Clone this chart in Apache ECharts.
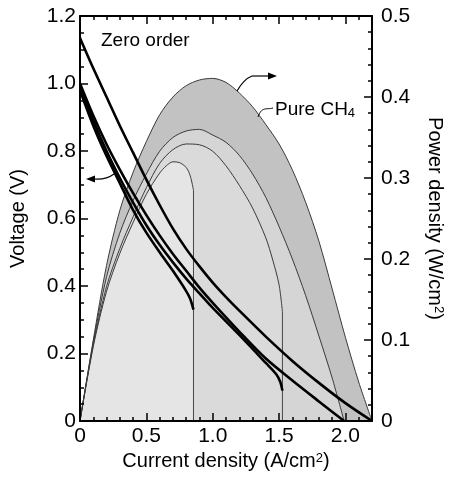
<!DOCTYPE html>
<html>
<head>
<meta charset="utf-8">
<script src="https://cdn.jsdelivr.net/npm/echarts@6/dist/echarts.min.js"></script>
<style>
  html, body { margin: 0; background: #fff; }
  #chart { width: 453px; height: 477px; }
</style>
</head>
<body>
<div id="chart"></div>
<script>
// voltage curves (left axis, V)
const currentZero = [0, 0.1, 0.2, 0.3, 0.4, 0.5, 0.6, 0.7, 0.8, 0.9, 1.0, 1.1, 1.2, 1.4, 1.6, 1.8, 2.0, 2.2];
const voltZero    = [1.135, 1.045, 0.96, 0.875, 0.795, 0.715, 0.64, 0.57, 0.51, 0.458, 0.41, 0.367, 0.327, 0.25, 0.178, 0.113, 0.053, 0];
const currentA = [0, 0.1, 0.2, 0.3, 0.4, 0.5, 0.6, 0.7, 0.8, 0.9, 1.0, 1.2, 1.4, 1.6, 1.8, 1.99];
const voltA    = [1.0, 0.905, 0.82, 0.745, 0.675, 0.61, 0.55, 0.495, 0.445, 0.395, 0.35, 0.265, 0.185, 0.12, 0.058, 0];
const currentB = [0, 0.1, 0.2, 0.3, 0.4, 0.5, 0.6, 0.7, 0.8, 0.9, 1.0, 1.2, 1.4, 1.48, 1.51, 1.525];
const voltB    = [0.99, 0.89, 0.8, 0.72, 0.647, 0.58, 0.522, 0.47, 0.422, 0.378, 0.335, 0.255, 0.172, 0.138, 0.115, 0.09];
const currentC = [0, 0.1, 0.2, 0.3, 0.4, 0.5, 0.6, 0.7, 0.8, 0.83, 0.855];
const voltC    = [0.98, 0.875, 0.785, 0.705, 0.625, 0.558, 0.5, 0.445, 0.385, 0.362, 0.33];

// power density curves (right axis, W/cm2)
const currentP0 = [0, 0.1, 0.2, 0.3, 0.4, 0.5, 0.6, 0.7, 0.8, 0.9, 1.0, 1.1, 1.2, 1.3, 1.4, 1.5, 1.6, 1.7, 1.8, 1.9, 2.0, 2.1, 2.2];
const powerP0   = [0, 0.1, 0.192, 0.26, 0.307, 0.345, 0.378, 0.4, 0.414, 0.421, 0.423, 0.418, 0.405, 0.388, 0.366, 0.342, 0.31, 0.27, 0.222, 0.163, 0.103, 0.048, 0];
const currentP1 = [0, 0.1, 0.2, 0.3, 0.4, 0.5, 0.6, 0.7, 0.8, 0.9, 1.0, 1.1, 1.2, 1.3, 1.4, 1.5, 1.6, 1.7, 1.8, 1.9, 1.99];
const powerP1   = [0, 0.097, 0.178, 0.232, 0.272, 0.305, 0.333, 0.35, 0.358, 0.36, 0.353, 0.344, 0.328, 0.305, 0.276, 0.24, 0.2, 0.155, 0.105, 0.053, 0];
const currentP2 = [0, 0.1, 0.2, 0.3, 0.4, 0.5, 0.6, 0.7, 0.8, 0.9, 1.0, 1.1, 1.2, 1.3, 1.4, 1.45, 1.5, 1.525];
const powerP2   = [0, 0.094, 0.166, 0.213, 0.252, 0.288, 0.318, 0.335, 0.342, 0.341, 0.333, 0.315, 0.291, 0.263, 0.226, 0.2, 0.168, 0.135];
const currentP3 = [0, 0.1, 0.2, 0.3, 0.4, 0.5, 0.6, 0.65, 0.7, 0.75, 0.8, 0.83, 0.855];
const powerP3   = [0, 0.092, 0.16, 0.207, 0.245, 0.28, 0.306, 0.315, 0.32, 0.319, 0.313, 0.303, 0.285];

// utilisation cut-off lines
const cutCurrent = [0.855, 1.525];
const cutPower   = [0.285, 0.135];

const FONT = "'Liberation Sans', Arial, sans-serif";

function pairs(xs, ys) {
  return xs.map((x, i) => [x, ys[i]]);
}

const chart = echarts.init(document.getElementById('chart'));

// every axis gets its own fresh objects
const tick = () => ({ show: true, inside: true, length: 8, lineStyle: { color: '#000', width: 1.5 } });
const minor = (n) => ({ show: true, splitNumber: n, length: 4, lineStyle: { color: '#000', width: 1.5 } });
const axLine = () => ({ show: true, onZero: false, lineStyle: { color: '#000', width: 2 } });
const lbl = (fmt, margin) => ({ fontSize: 21, color: '#000', fontFamily: FONT, margin: margin, formatter: fmt });

function fmtOne(v) {
  return v === 0 ? '0' : v.toFixed(1);
}
function fmtX(v) {
  if (v === 0) return '0';
  return Math.abs(v * 2 - Math.round(v * 2)) < 1e-6 ? v.toFixed(1) : '';
}

function powerArea(xs, ys, fill) {
  return {
    type: 'line', xAxisIndex: 0, yAxisIndex: 1,
    data: pairs(xs, ys), showSymbol: false, smooth: 0.3,
    lineStyle: { color: '#3a3a3a', width: 1 },
    areaStyle: { color: fill, opacity: 1 },
    silent: true
  };
}
function voltLine(xs, ys) {
  return {
    type: 'line', xAxisIndex: 0, yAxisIndex: 0,
    data: pairs(xs, ys), showSymbol: false, smooth: 0.3,
    lineStyle: { color: '#000', width: 2.6 },
    silent: true, z: 5
  };
}
function cutLine(i) {
  return {
    type: 'line', xAxisIndex: 0, yAxisIndex: 1,
    data: [[cutCurrent[i], cutPower[i]], [cutCurrent[i], 0]],
    showSymbol: false,
    lineStyle: { color: '#444', width: 1 },
    silent: true, z: 3
  };
}

const supRich = () => ({
  sup: { fontSize: 13, fontFamily: FONT, color: '#000', verticalAlign: 'top', lineHeight: 14 }
});

chart.setOption({
  animation: false,
  grid: { left: 80, right: 79, top: 16, bottom: 56 },
  xAxis: [
    {
      type: 'value', min: 0, max: 2.2, interval: 0.5, position: 'bottom', z: 10,
      axisLine: axLine(), axisTick: tick(), minorTick: minor(5),
      axisLabel: lbl(fmtX, 5), splitLine: { show: false },
      name: 'Current density (A/cm{sup|2})', nameLocation: 'middle', nameGap: 30,
      nameTextStyle: { fontSize: 20, color: '#000', fontFamily: FONT, rich: supRich() }
    },
    {
      type: 'value', min: 0, max: 2.2, interval: 0.5, position: 'top', z: 10,
      axisLine: axLine(), axisTick: tick(), minorTick: minor(5),
      axisLabel: { show: false }, splitLine: { show: false }
    }
  ],
  yAxis: [
    {
      type: 'value', min: 0, max: 1.2, interval: 0.2, position: 'left', z: 10,
      axisLine: axLine(), axisTick: tick(), minorTick: minor(4),
      axisLabel: lbl(fmtOne, 4), splitLine: { show: false },
      name: 'Voltage (V)', nameLocation: 'middle', nameGap: 52,
      nameTextStyle: { fontSize: 20, color: '#000', fontFamily: FONT }
    },
    {
      type: 'value', min: 0, max: 0.5, interval: 0.1, position: 'right', z: 10,
      axisLine: axLine(), axisTick: tick(), minorTick: minor(5),
      axisLabel: lbl(fmtOne, 9), splitLine: { show: false },
      name: 'Power density (W/cm{sup|2})', nameLocation: 'middle', nameGap: 53, nameRotate: -90,
      nameTextStyle: { fontSize: 20, color: '#000', fontFamily: FONT, rich: supRich() }
    }
  ],
  series: [
    powerArea(currentP0, powerP0, '#c2c2c2'),
    powerArea(currentP1, powerP1, '#d5d5d5'),
    powerArea(currentP2, powerP2, '#dadada'),
    powerArea(currentP3, powerP3, '#e5e5e5'),
    cutLine(0),
    cutLine(1),
    voltLine(currentZero, voltZero),
    voltLine(currentA, voltA),
    voltLine(currentB, voltB),
    voltLine(currentC, voltC)
  ],
  graphic: [
    { type: 'text', x: 101, y: 41, style: { text: 'Zero order', font: '19px ' + FONT, fill: '#000', textVerticalAlign: 'middle' } },
    {
      type: 'text', x: 275, y: 110,
      style: {
        text: 'Pure CH{sub|4}', font: '19px ' + FONT, fill: '#000', textVerticalAlign: 'middle',
        rich: { sub: { fontSize: 13, fontFamily: FONT, fill: '#000', verticalAlign: 'bottom' } }
      }
    },
    { type: 'text', x: 117, y: 348, style: { text: '85%\nused', font: '19px ' + FONT, fill: '#000', lineHeight: 21, textVerticalAlign: 'middle' } },
    { type: 'text', x: 210, y: 384, style: { text: '75%\nused', font: '19px ' + FONT, fill: '#000', lineHeight: 21, textVerticalAlign: 'middle' } },
    { type: 'text', x: 288, y: 343, style: { text: '50%', font: '19px ' + FONT, fill: '#000', textVerticalAlign: 'middle' } },
    // arrow pointing to the voltage axis
    { type: 'bezierCurve', shape: { x1: 114, y1: 174, cpx1: 106, cpy1: 180, x2: 94, y2: 179 }, style: { stroke: '#000', lineWidth: 1.2, fill: null }, z: 10 },
    { type: 'polygon', shape: { points: [[86, 179], [95, 175.5], [95, 182.5]] }, style: { fill: '#000' }, z: 10 },
    // arrow pointing to the power axis
    { type: 'bezierCurve', shape: { x1: 237, y1: 91, cpx1: 244, cpy1: 79, x2: 252, y2: 76 }, style: { stroke: '#000', lineWidth: 1.2, fill: null }, z: 10 },
    { type: 'line', shape: { x1: 252, y1: 76, x2: 269, y2: 76 }, style: { stroke: '#000', lineWidth: 1.2 }, z: 10 },
    { type: 'polygon', shape: { points: [[277, 76], [268, 72.5], [268, 79.5]] }, style: { fill: '#000' }, z: 10 },
    // leader to Pure CH4 label
    { type: 'bezierCurve', shape: { x1: 258, y1: 117, cpx1: 262, cpy1: 106, cpx2: 266, cpy2: 110, x2: 273, y2: 108 }, style: { stroke: '#000', lineWidth: 1, fill: null }, z: 10 }
  ]
});
</script>
</body>
</html>
